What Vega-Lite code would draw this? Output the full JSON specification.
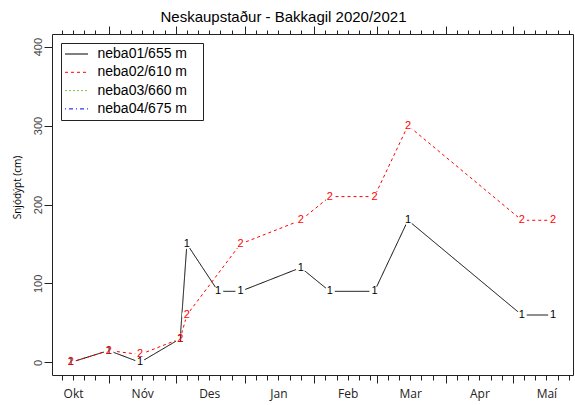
{
  "$schema": "https://vega.github.io/schema/vega-lite/v6.json",
  "width": 521,
  "height": 341,
  "autosize": "none",
  "padding": {"left": 52, "top": 34, "right": 2, "bottom": 30},
  "background": "white",
  "config": {
    "view": {"stroke": "#222", "strokeWidth": 1},
    "axis": {"grid": false, "domain": false, "tickColor": "#222", "labelOverlap": false, "labelFlush": false},
    "legend": {
      "orient": "top-left", "offset": 9, "strokeColor": "#222", "fillColor": "white", "padding": 4,
      "symbolType": "M-2,0H2", "symbolSize": 132, "symbolOffset": 4.5, "symbolStrokeWidth": 1, "labelFontSize": 14,
      "labelFont": "Liberation Sans", "labelColor": "#000", "labelOffset": 14, "rowPadding": 4.3, "cornerRadius": 0,
      "titleOrient": "right", "titleOpacity": 0, "titlePadding": 8, "titleFontSize": 12
    }
  },
  "title": {
    "text": "Neskaupstaður - Bakkagil 2020/2021", "font": "Liberation Sans", "fontSize": 15, "fontWeight": "normal",
    "color": "#000", "frame": "group", "anchor": "middle", "dx": -29, "offset": -11, "baseline": "alphabetic"
  },
  "data": {
    "values": [
      {"s": "neba01/655 m", "n": "1", "date": "2020-10-15", "v": 0},
      {"s": "neba01/655 m", "n": "1", "date": "2020-11-01", "v": 15},
      {"s": "neba01/655 m", "n": "1", "date": "2020-11-15", "v": 0},
      {"s": "neba01/655 m", "n": "1", "date": "2020-12-03", "v": 30},
      {"s": "neba01/655 m", "n": "1", "date": "2020-12-06", "v": 150},
      {"s": "neba01/655 m", "n": "1", "date": "2020-12-20", "v": 90},
      {"s": "neba01/655 m", "n": "1", "date": "2020-12-30", "v": 90},
      {"s": "neba01/655 m", "n": "1", "date": "2021-01-26", "v": 120},
      {"s": "neba01/655 m", "n": "1", "date": "2021-02-08", "v": 90},
      {"s": "neba01/655 m", "n": "1", "date": "2021-02-28", "v": 90},
      {"s": "neba01/655 m", "n": "1", "date": "2021-03-15", "v": 180},
      {"s": "neba01/655 m", "n": "1", "date": "2021-05-05", "v": 60},
      {"s": "neba01/655 m", "n": "1", "date": "2021-05-19", "v": 60},
      {"s": "neba02/610 m", "n": "2", "date": "2020-10-15", "v": 0},
      {"s": "neba02/610 m", "n": "2", "date": "2020-11-01", "v": 15},
      {"s": "neba02/610 m", "n": "2", "date": "2020-11-15", "v": 10},
      {"s": "neba02/610 m", "n": "2", "date": "2020-12-03", "v": 30},
      {"s": "neba02/610 m", "n": "2", "date": "2020-12-06", "v": 60},
      {"s": "neba02/610 m", "n": "2", "date": "2020-12-30", "v": 150},
      {"s": "neba02/610 m", "n": "2", "date": "2021-01-26", "v": 180},
      {"s": "neba02/610 m", "n": "2", "date": "2021-02-08", "v": 210},
      {"s": "neba02/610 m", "n": "2", "date": "2021-02-28", "v": 210},
      {"s": "neba02/610 m", "n": "2", "date": "2021-03-15", "v": 300},
      {"s": "neba02/610 m", "n": "2", "date": "2021-05-05", "v": 180},
      {"s": "neba02/610 m", "n": "2", "date": "2021-05-19", "v": 180}
    ]
  },
  "encoding": {
    "y": {
      "field": "v", "type": "quantitative",
      "scale": {"domain": [-16, 416], "nice": false, "zero": false},
      "axis": {
        "values": [0, 100, 200, 300, 400], "tickSize": 8, "labelAngle": -90, "labelPadding": 1,
        "labelFont": "Liberation Sans", "labelFontSize": 11, "labelColor": "#444",
        "title": "Snjódýpt (cm)", "titleFont": "Open Sans", "titleFontSize": 10, "titleFontWeight": "normal",
        "titleColor": "#000", "titlePadding": 10, "titleY": 153
      }
    }
  },
  "layer": [
    {
      "mark": {"type": "line", "strokeWidth": 1},
      "encoding": {
        "x": {
          "field": "date", "type": "temporal",
          "scale": {"type": "utc", "domain": ["2020-10-06T14:00:00Z", "2021-05-27T22:00:00Z"], "nice": false},
          "axis": {
            "orient": "bottom", "title": null,
            "values": [
              {"year": 2020, "month": 10, "date": 11, "utc": true}, {"year": 2020, "month": 10, "date": 16, "utc": true},
              {"year": 2020, "month": 10, "date": 21, "utc": true}, {"year": 2020, "month": 10, "date": 26, "utc": true},
              {"year": 2020, "month": 11, "date": 1, "utc": true}, {"year": 2020, "month": 11, "date": 6, "utc": true},
              {"year": 2020, "month": 11, "date": 11, "utc": true}, {"year": 2020, "month": 11, "date": 16, "utc": true},
              {"year": 2020, "month": 11, "date": 21, "utc": true}, {"year": 2020, "month": 11, "date": 26, "utc": true},
              {"year": 2020, "month": 12, "date": 1, "utc": true}, {"year": 2020, "month": 12, "date": 6, "utc": true},
              {"year": 2020, "month": 12, "date": 11, "utc": true}, {"year": 2020, "month": 12, "date": 16, "utc": true},
              {"year": 2020, "month": 12, "date": 21, "utc": true}, {"year": 2020, "month": 12, "date": 26, "utc": true},
              {"year": 2021, "month": 1, "date": 1, "utc": true}, {"year": 2021, "month": 1, "date": 6, "utc": true},
              {"year": 2021, "month": 1, "date": 11, "utc": true}, {"year": 2021, "month": 1, "date": 16, "utc": true},
              {"year": 2021, "month": 1, "date": 21, "utc": true}, {"year": 2021, "month": 1, "date": 26, "utc": true},
              {"year": 2021, "month": 2, "date": 1, "utc": true}, {"year": 2021, "month": 2, "date": 6, "utc": true},
              {"year": 2021, "month": 2, "date": 11, "utc": true}, {"year": 2021, "month": 2, "date": 16, "utc": true},
              {"year": 2021, "month": 2, "date": 21, "utc": true}, {"year": 2021, "month": 2, "date": 26, "utc": true},
              {"year": 2021, "month": 3, "date": 1, "utc": true}, {"year": 2021, "month": 3, "date": 6, "utc": true},
              {"year": 2021, "month": 3, "date": 11, "utc": true}, {"year": 2021, "month": 3, "date": 16, "utc": true},
              {"year": 2021, "month": 3, "date": 21, "utc": true}, {"year": 2021, "month": 3, "date": 26, "utc": true},
              {"year": 2021, "month": 4, "date": 1, "utc": true}, {"year": 2021, "month": 4, "date": 6, "utc": true},
              {"year": 2021, "month": 4, "date": 11, "utc": true}, {"year": 2021, "month": 4, "date": 16, "utc": true},
              {"year": 2021, "month": 4, "date": 21, "utc": true}, {"year": 2021, "month": 4, "date": 26, "utc": true},
              {"year": 2021, "month": 5, "date": 1, "utc": true}, {"year": 2021, "month": 5, "date": 6, "utc": true},
              {"year": 2021, "month": 5, "date": 11, "utc": true}, {"year": 2021, "month": 5, "date": 16, "utc": true},
              {"year": 2021, "month": 5, "date": 21, "utc": true}, {"year": 2021, "month": 5, "date": 26, "utc": true}
            ],
            "tickSize": {"condition": {"test": "utcdate(datum.value) === 1", "value": 8}, "value": 5},
            "labelExpr": "utcdate(datum.value) === 16 ? ['Jan','Feb','Mar','Apr','Maí','Jún','Júl','Ágú','Sep','Okt','Nóv','Des'][utcmonth(datum.value)] : ''",
            "labelFont": "Open Sans", "labelFontSize": 12, "labelColor": "#222", "labelPadding": 8, "labelBaseline": "top"
          }
        },
        "color": {
          "field": "s", "type": "nominal", "title": "I",
          "scale": {"domain": ["neba01/655 m", "neba02/610 m", "neba03/660 m", "neba04/675 m"], "range": ["#000000", "#ff0000", "#82c341", "#0000ff"]}
        },
        "strokeDash": {
          "field": "s", "type": "nominal", "title": "I",
          "scale": {"domain": ["neba01/655 m", "neba02/610 m", "neba03/660 m", "neba04/675 m"], "range": [[1, 0], [3, 3], [2, 2], [1, 3, 4, 3]]}
        },
        "detail": {"field": "s"}
      }
    },
    {
      "mark": {"type": "point", "filled": true, "color": "white", "opacity": 1, "size": 100, "strokeWidth": 0},
      "encoding": {
        "x": {"field": "date", "type": "temporal", "axis": null}
      }
    },
    {
      "mark": {"type": "text", "font": "Liberation Sans", "fontSize": 11, "align": "center", "baseline": "middle"},
      "encoding": {
        "x": {
          "field": "date", "type": "temporal",
          "axis": {
            "orient": "top", "title": null, "labels": false,
            "values": [
              {"year": 2020, "month": 10, "date": 11, "utc": true}, {"year": 2020, "month": 10, "date": 16, "utc": true},
              {"year": 2020, "month": 10, "date": 21, "utc": true}, {"year": 2020, "month": 10, "date": 26, "utc": true},
              {"year": 2020, "month": 11, "date": 1, "utc": true}, {"year": 2020, "month": 11, "date": 6, "utc": true},
              {"year": 2020, "month": 11, "date": 11, "utc": true}, {"year": 2020, "month": 11, "date": 16, "utc": true},
              {"year": 2020, "month": 11, "date": 21, "utc": true}, {"year": 2020, "month": 11, "date": 26, "utc": true},
              {"year": 2020, "month": 12, "date": 1, "utc": true}, {"year": 2020, "month": 12, "date": 6, "utc": true},
              {"year": 2020, "month": 12, "date": 11, "utc": true}, {"year": 2020, "month": 12, "date": 16, "utc": true},
              {"year": 2020, "month": 12, "date": 21, "utc": true}, {"year": 2020, "month": 12, "date": 26, "utc": true},
              {"year": 2021, "month": 1, "date": 1, "utc": true}, {"year": 2021, "month": 1, "date": 6, "utc": true},
              {"year": 2021, "month": 1, "date": 11, "utc": true}, {"year": 2021, "month": 1, "date": 16, "utc": true},
              {"year": 2021, "month": 1, "date": 21, "utc": true}, {"year": 2021, "month": 1, "date": 26, "utc": true},
              {"year": 2021, "month": 2, "date": 1, "utc": true}, {"year": 2021, "month": 2, "date": 6, "utc": true},
              {"year": 2021, "month": 2, "date": 11, "utc": true}, {"year": 2021, "month": 2, "date": 16, "utc": true},
              {"year": 2021, "month": 2, "date": 21, "utc": true}, {"year": 2021, "month": 2, "date": 26, "utc": true},
              {"year": 2021, "month": 3, "date": 1, "utc": true}, {"year": 2021, "month": 3, "date": 6, "utc": true},
              {"year": 2021, "month": 3, "date": 11, "utc": true}, {"year": 2021, "month": 3, "date": 16, "utc": true},
              {"year": 2021, "month": 3, "date": 21, "utc": true}, {"year": 2021, "month": 3, "date": 26, "utc": true},
              {"year": 2021, "month": 4, "date": 1, "utc": true}, {"year": 2021, "month": 4, "date": 6, "utc": true},
              {"year": 2021, "month": 4, "date": 11, "utc": true}, {"year": 2021, "month": 4, "date": 16, "utc": true},
              {"year": 2021, "month": 4, "date": 21, "utc": true}, {"year": 2021, "month": 4, "date": 26, "utc": true},
              {"year": 2021, "month": 5, "date": 1, "utc": true}, {"year": 2021, "month": 5, "date": 6, "utc": true},
              {"year": 2021, "month": 5, "date": 11, "utc": true}, {"year": 2021, "month": 5, "date": 16, "utc": true},
              {"year": 2021, "month": 5, "date": 21, "utc": true}, {"year": 2021, "month": 5, "date": 26, "utc": true}
            ],
            "tickSize": {"condition": {"test": "utcdate(datum.value) === 1", "value": 8}, "value": 4}
          }
        },
        "text": {"field": "n"},
        "color": {"field": "s", "type": "nominal", "title": "I"}
      }
    }
  ],
  "resolve": {"axis": {"x": "independent"}}
}
